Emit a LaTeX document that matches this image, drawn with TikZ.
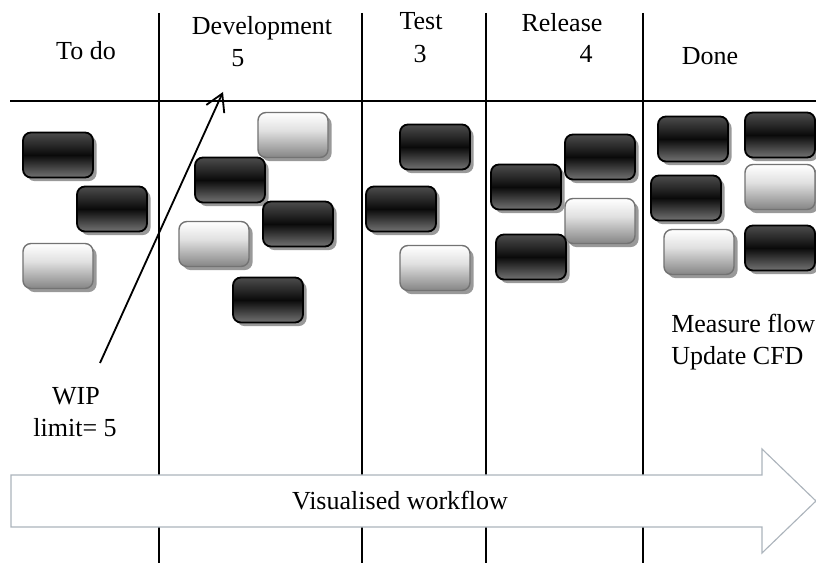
\documentclass[tikz,border=0pt]{standalone}
\usepackage{fontspec}
\setmainfont{Liberation Serif}
\usetikzlibrary{shadows,arrows.meta}
\definecolor{flowedge}{RGB}{172,180,188}
\pgfdeclareverticalshading{darkshade}{100bp}{color(0bp)=(black!55); color(25bp)=(black!55); color(50bp)=(black!96); color(75bp)=(black!70); color(100bp)=(black!70)}
\pgfdeclareverticalshading{lightshade}{100bp}{color(0bp)=(black!48); color(25bp)=(black!48); color(55bp)=(black!12); color(75bp)=(white); color(100bp)=(white)}
\tikzstyle{card} = [rectangle, rounded corners=0.2cm, minimum width=1.75cm, minimum height=1.125cm, inner sep=0pt, drop shadow={shadow xshift=0.09cm, shadow yshift=-0.09cm, fill=black!40, opacity=1}]
\tikzstyle{darkcard} = [card, draw=black, line width=1.3pt, shading=darkshade]
\tikzstyle{lightcard} = [card, draw=black!55, line width=1pt, shading=lightshade]
\tikzstyle{lane} = [draw, line width=1.2pt]
\tikzstyle{limitarrow} = [draw, line width=1.3pt, -{Straight Barb[length=12pt,width=14pt]}]

\begin{document}
\begin{tikzpicture}[x=0.025cm, y=-0.025cm, font=\fontsize{18.5}{23}\selectfont]
\useasboundingbox (0,0) rectangle (816,563);
% lanes
\draw [lane] (159,13) -- (159,563);
\draw [lane] (362,13) -- (362,563);
\draw [lane] (486,13) -- (486,563);
\draw [lane] (643,13) -- (643,563);
\draw [lane] (10,101) -- (816,101);
% column heads
\node [anchor=base] (todo) at (86,60) {To do};
\node [anchor=base] (dev) at (262,35) {Development};
\node [anchor=base] (devlimit) at (238,67) {5};
\node [anchor=base] (test) at (421,30) {Test};
\node [anchor=base] (testlimit) at (420,63) {3};
\node [anchor=base] (rel) at (562,32) {Release};
\node [anchor=base] (rellimit) at (586,63) {4};
\node [anchor=base] (done) at (710,65) {Done};
% to do
\node [darkcard] (c1) at (58,155) {};
\node [darkcard] (c2) at (112,209) {};
\node [lightcard] (c3) at (58,266) {};
% development
\node [lightcard] (c4) at (293,135) {};
\node [darkcard] (c5) at (230,180) {};
\node [darkcard] (c6) at (298,224) {};
\node [lightcard] (c7) at (214,244) {};
\node [darkcard] (c8) at (268,300) {};
% test
\node [darkcard] (c9) at (435,147) {};
\node [darkcard] (c10) at (401,209) {};
\node [lightcard] (c11) at (435,268) {};
% release
\node [darkcard] (c12) at (526,187) {};
\node [darkcard] (c13) at (600,157) {};
\node [lightcard] (c14) at (600,221) {};
\node [darkcard] (c15) at (531,257) {};
% done
\node [darkcard] (c16) at (693,139) {};
\node [darkcard] (c17) at (780,135) {};
\node [darkcard] (c18) at (686,198) {};
\node [lightcard] (c19) at (780,187) {};
\node [lightcard] (c20) at (699,252) {};
\node [darkcard] (c21) at (780,248) {};
% wip limit
\node [anchor=base] (wip) at (76,405) {WIP};
\node [anchor=base] (limit) at (75,437) {limit= 5};
\coordinate (wiptip) at (223,92);
\draw [limitarrow] ([shift={(0.6cm,0.5cm)}]wip.north) -- (wiptip);
% done notes
\node [anchor=base west, inner sep=0pt] (measure) at (671,333) {Measure flow};
\node [anchor=base west, inner sep=0pt] (update) at (671,365) {Update CFD};
% workflow arrow
\draw [flowedge, fill=white, line width=0.8pt] (11,475) -- (762,475) -- (762,449) -- (816,501) -- (762,553) -- (762,527) -- (11,527) -- cycle;
\node [anchor=base] (flow) at (400,510) {Visualised workflow};
\end{tikzpicture}
\end{document}
